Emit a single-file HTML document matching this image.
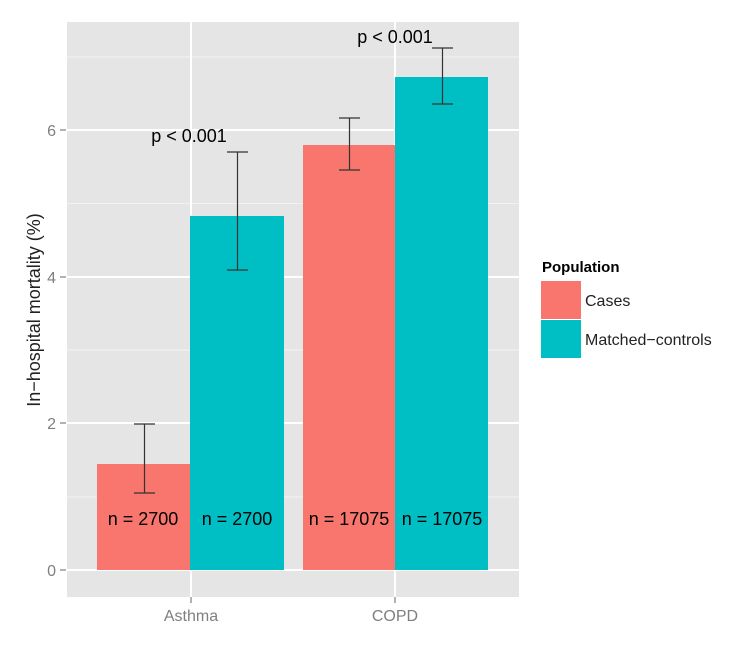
<!DOCTYPE html>
<html><head><style>
body{margin:0;background:#fff;}
</style></head><body>
<svg width="740" height="640" xmlns="http://www.w3.org/2000/svg" font-family="Liberation Sans, sans-serif">
<rect x="67" y="22" width="452" height="575" fill="#e5e5e5"/>
<g stroke="#f2f2f2" stroke-width="1">
<line x1="67" x2="519" y1="57" y2="57"/><line x1="67" x2="519" y1="203.5" y2="203.5"/>
<line x1="67" x2="519" y1="350" y2="350"/><line x1="67" x2="519" y1="497" y2="497"/>
</g>
<g stroke="#fff" stroke-width="2">
<line x1="67" x2="519" y1="130" y2="130"/><line x1="67" x2="519" y1="277" y2="277"/>
<line x1="67" x2="519" y1="423" y2="423"/><line x1="67" x2="519" y1="570" y2="570"/>
<line x1="191" x2="191" y1="22" y2="597"/><line x1="395" x2="395" y1="22" y2="597"/>
</g>
<rect x="97" y="464" width="93" height="106" fill="#f8766d"/>
<rect x="190" y="216" width="94" height="354" fill="#00bfc4"/>
<rect x="303" y="145" width="92" height="425" fill="#f8766d"/>
<rect x="395" y="77" width="93" height="493" fill="#00bfc4"/>
<g stroke="#333" stroke-width="1.2" fill="none">
<path d="M134 424H155M144.5 424V493M134 493H155"/>
<path d="M227 152H248M237.5 152V270M227 270H248"/>
<path d="M339 118H360M349.5 118V170M339 170H360"/>
<path d="M432 48H453M442.5 48V104M432 104H453"/>
</g>
<g font-size="18" fill="#000" text-anchor="middle">
<text x="189" y="142">p &lt; 0.001</text>
<text x="395" y="43">p &lt; 0.001</text>
<text x="143" y="525">n = 2700</text>
<text x="237" y="525">n = 2700</text>
<text x="349" y="525">n = 17075</text>
<text x="442" y="525">n = 17075</text>
</g>
<g stroke="#7f7f7f" stroke-width="1.2">
<line x1="60" x2="66" y1="130" y2="130"/><line x1="60" x2="66" y1="277" y2="277"/>
<line x1="60" x2="66" y1="423" y2="423"/><line x1="60" x2="66" y1="570" y2="570"/>
<line x1="191" x2="191" y1="597" y2="603"/><line x1="395" x2="395" y1="597" y2="603"/>
</g>
<g font-size="16" fill="#7f7f7f">
<text x="56" y="136" text-anchor="end">6</text>
<text x="56" y="283" text-anchor="end">4</text>
<text x="56" y="429" text-anchor="end">2</text>
<text x="56" y="576" text-anchor="end">0</text>
<text x="191" y="621" text-anchor="middle">Asthma</text>
<text x="395" y="621" text-anchor="middle">COPD</text>
</g>
<text transform="translate(40,310) rotate(-90)" font-size="18" fill="#222" text-anchor="middle">In−hospital mortality (%)</text>
<text x="542" y="272" font-size="15" font-weight="bold" fill="#000">Population</text>
<rect x="541" y="281" width="40" height="38" fill="#f8766d"/>
<rect x="541" y="320" width="40" height="38" fill="#00bfc4"/>
<text x="585" y="306" font-size="16" fill="#222">Cases</text>
<text x="585" y="345" font-size="16" fill="#222">Matched−controls</text>
</svg>
</body></html>
